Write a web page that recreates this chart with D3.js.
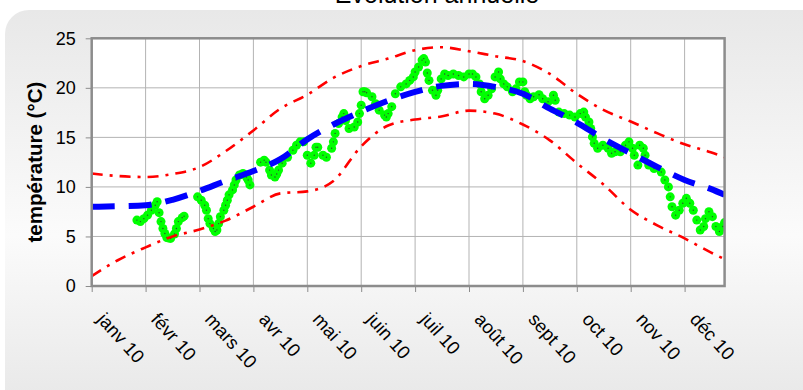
<!DOCTYPE html>
<html>
<head>
<meta charset="utf-8">
<script src="https://cdnjs.cloudflare.com/ajax/libs/d3/7.8.5/d3.min.js"></script>
<style>
  body { margin: 0; background: #fff; }
  svg { display: block; font-family: "Liberation Sans", Arial, sans-serif; }
</style>
</head>
<body>
<svg id="chart" width="803" height="390"></svg>
<script>
// month ticks (day of year at each month start)
const monthLabels = ['janv 10', 'févr 10', 'mars 10', 'avr 10', 'mai 10', 'juin 10',
  'juil 10', 'août 10', 'sept 10', 'oct 10', 'nov 10', 'déc 10'];
const monthStarts = [0, 31, 59, 90, 120, 151, 181, 212, 243, 273, 304, 334, 365];
const lastDay = 357;
const yTicks = [0, 5, 10, 15, 20, 25];

// normals and envelope, sampled twice a month
const curveDays = [0, 15, 31, 45, 59, 74, 90, 105, 120, 135, 151, 166, 181, 196, 212, 227, 243, 258, 273, 288, 304, 319, 334, 349, 357];
const normalTemp = [8.0, 8.05, 8.15, 8.7, 9.6, 10.6, 11.6, 12.8, 14.8, 16.3, 17.6, 18.7, 19.6, 20.2, 20.4, 20.1, 19.4, 17.9, 16.5, 14.9, 13.4, 12.0, 10.7, 9.8, 9.2];
const upperTemp = [11.35, 11.1, 11.0, 11.3, 12.0, 13.6, 15.7, 17.9, 19.3, 21.0, 22.2, 22.95, 23.8, 24.1, 23.7, 23.2, 22.7, 21.4, 19.4, 17.8, 16.6, 15.4, 14.3, 13.5, 13.0];
const lowerTemp = [1.0, 2.6, 3.9, 5.0, 5.7, 6.6, 8.0, 9.35, 9.55, 10.6, 14.1, 16.2, 16.8, 17.1, 17.7, 17.4, 16.3, 14.7, 12.4, 10.3, 7.7, 6.1, 4.8, 3.4, 2.7];

// observed daily temperatures
const obsDays = [26, 28, 30, 32, 34, 36, 37, 38, 39, 40, 41, 42, 43, 44, 46, 47, 48, 50, 51,
  58, 60, 62, 63, 64, 65, 67, 68, 69, 70, 71, 73, 74, 75, 76, 78, 79, 80, 82, 84, 86, 87, 88,
  94, 96, 97, 99, 100, 102, 103, 104, 106, 109, 112, 114, 116, 118,
  120, 122, 124, 125, 126, 129, 131, 134, 135, 136, 138, 140, 141, 142, 144, 147, 149, 150,
  151, 152, 153, 154, 157, 159, 161, 164, 165, 166, 168, 170, 173, 176, 178, 180, 181, 183,
  185, 186, 187, 188, 189, 191, 193, 194, 196, 198, 200, 203, 206, 209, 212, 214, 216, 218,
  219, 221, 223, 225, 227, 229, 230, 232, 234, 237, 239, 241, 243, 244, 245, 247, 249, 252,
  254, 257, 260, 261, 263, 266, 269, 272, 275, 277, 278, 280, 281, 282, 283, 285, 288, 291,
  293, 295, 298, 301, 303, 305, 306, 308, 309, 311, 312, 314, 317, 321, 323, 325, 326, 327,
  329, 331, 333, 335, 337, 339, 341, 343, 345, 346, 348, 350, 352, 354, 356, 357];
const obsTemp = [6.65, 6.5, 6.8, 7.15, 7.65, 8.15, 8.5, 7.4, 6.5, 5.8, 5.3, 4.9, 4.85, 4.8, 5.25, 5.8, 6.5, 6.9, 7.05,
  9.0, 8.65, 8.15, 7.65, 6.8, 6.3, 5.8, 5.5, 5.65, 6.3, 7.0, 7.65, 8.15, 8.65, 9.2, 9.7, 10.2, 10.7, 11.2, 11.35, 11.0, 10.7, 10.2,
  12.5, 12.7, 12.5, 11.7, 11.2, 11.0, 11.3, 11.7, 12.4, 13.0, 13.7, 14.2, 14.55, 14.55,
  13.2, 12.4, 13.2, 14.0, 14.0, 13.2, 13.0, 13.9, 14.55, 15.4, 16.4, 17.05, 17.4, 16.7, 15.9, 16.05, 16.55, 17.4,
  18.25, 19.6, 19.6, 19.5, 19.1, 18.4, 17.75, 17.25, 17.05, 17.4, 18.1, 19.4, 20.1, 20.4, 20.75, 21.1, 21.6, 22.1,
  22.8, 22.95, 22.6, 21.5, 20.75, 19.75, 19.25, 19.75, 20.9, 21.4, 21.25, 21.4, 21.25, 21.1, 21.4, 21.4, 21.1, 20.4,
  19.6, 18.9, 19.25, 19.9, 21.1, 21.6, 20.9, 20.4, 20.1, 19.6, 19.9, 20.6, 20.6, 19.6, 19.25, 18.9, 19.1, 19.3,
  18.9, 18.6, 19.25, 18.75, 17.55, 17.4, 17.25, 17.05, 17.4, 17.55, 17.05, 16.55, 15.9, 15.05, 14.4, 13.9, 14.2, 13.9,
  13.4, 13.55, 13.55, 14.2, 14.55, 13.9, 13.2, 12.2, 14.2, 13.9, 13.2, 12.2, 11.85, 11.5, 10.7, 10.0, 9.0, 8.0,
  7.15, 7.65, 8.35, 8.85, 8.35, 7.65, 6.65, 5.65, 6.0, 6.8, 7.5, 7.0, 6.0, 5.5, 6.0, 6.4];

const svg = d3.select('#chart');
const plotLeft = 91.7, plotTop = 38.3, plotBottom = 286, monthW = 53.9;

const x = d3.scaleLinear()
  .domain(monthStarts)
  .range(monthStarts.map((d, i) => plotLeft + i * monthW));
const plotRight = x(lastDay);

const y = d3.scaleLinear()
  .domain([0, 25])
  .range([plotBottom, plotTop]);

// background panel
const defs = svg.append('defs');
const grad = defs.append('linearGradient')
  .attr('id', 'bg')
  .attr('x1', 0).attr('y1', 0).attr('x2', 0).attr('y2', 1);
grad.append('stop').attr('offset', '0%').attr('stop-color', '#e8e8e8');
grad.append('stop').attr('offset', '55%').attr('stop-color', '#fbfbfb');
grad.append('stop').attr('offset', '100%').attr('stop-color', '#e6e6e6');

defs.append('clipPath').attr('id', 'plot')
  .append('rect')
  .attr('x', plotLeft).attr('y', plotTop)
  .attr('width', plotRight - plotLeft).attr('height', plotBottom - plotTop);

svg.append('rect')
  .attr('x', 5).attr('y', 10)
  .attr('width', 830).attr('height', 410)
  .attr('rx', 24)
  .attr('fill', 'url(#bg)');

svg.append('text')
  .attr('x', 437).attr('y', 3)
  .attr('text-anchor', 'middle')
  .attr('font-size', '25px')
  .text('Evolution annuelle');

// plot area
svg.append('rect')
  .attr('x', plotLeft).attr('y', plotTop)
  .attr('width', plotRight - plotLeft).attr('height', plotBottom - plotTop)
  .attr('fill', '#fff');

svg.append('g')
  .selectAll('line')
  .data(yTicks)
  .join('line')
  .attr('x1', plotLeft).attr('x2', plotRight)
  .attr('y1', d => y(d)).attr('y2', d => y(d))
  .attr('stroke', '#b3b3b3');

svg.append('g')
  .selectAll('line')
  .data(monthStarts.slice(1, 12))
  .join('line')
  .attr('x1', d => x(d)).attr('x2', d => x(d))
  .attr('y1', plotTop).attr('y2', plotBottom)
  .attr('stroke', '#b3b3b3');

// axes
const yAxis = svg.append('g')
  .attr('transform', `translate(${plotLeft},0)`)
  .call(d3.axisLeft(y).tickValues(yTicks).tickSize(6).tickPadding(10));
yAxis.select('.domain').remove();
yAxis.selectAll('line').attr('stroke', '#8c8c8c');
yAxis.selectAll('text')
  .attr('font-size', '18px')
  .attr('font-family', '"Liberation Sans", Arial, sans-serif')
  .attr('fill', '#000');

const xAxis = svg.append('g')
  .attr('transform', `translate(0,${plotBottom})`)
  .call(d3.axisBottom(x)
    .tickValues(monthStarts.slice(0, 12))
    .tickFormat((d, i) => monthLabels[i])
    .tickSize(6));
xAxis.select('.domain').remove();
xAxis.selectAll('line').attr('stroke', '#8c8c8c');
xAxis.selectAll('text')
  .attr('font-size', '18.5px')
  .attr('font-family', '"Liberation Sans", Arial, sans-serif')
  .attr('fill', '#000')
  .attr('text-anchor', 'start')
  .attr('y', 0).attr('dy', 0)
  .attr('transform', 'translate(4,34) rotate(48)');

svg.append('text')
  .attr('transform', `translate(42,${(plotTop + plotBottom) / 2}) rotate(-90)`)
  .attr('text-anchor', 'middle')
  .attr('font-size', '20.5px')
  .attr('font-weight', 'bold')
  .text('température (°C)');

// series
const plot = svg.append('g').attr('clip-path', 'url(#plot)');

const obs = d3.zip(obsDays, obsTemp);
plot.append('g')
  .selectAll('circle')
  .data(obs)
  .join('circle')
  .attr('cx', d => x(d[0]))
  .attr('cy', d => y(d[1]))
  .attr('r', 4.5)
  .attr('fill', '#00ff00');
plot.append('g')
  .selectAll('circle')
  .data(obs)
  .join('circle')
  .attr('cx', d => x(d[0]))
  .attr('cy', d => y(d[1]))
  .attr('r', 0.7)
  .attr('fill', '#2b4d2b');

const line = d3.line()
  .x(d => x(d[0]))
  .y(d => y(d[1]))
  .curve(d3.curveMonotoneX);

[upperTemp, lowerTemp].forEach(vals => {
  plot.append('path')
    .datum(d3.zip(curveDays, vals))
    .attr('d', line)
    .attr('fill', 'none')
    .attr('stroke', '#ff0000')
    .attr('stroke-width', 2.6)
    .attr('stroke-dasharray', '11,7,3,7');
});

plot.append('path')
  .datum(d3.zip(curveDays, normalTemp))
  .attr('d', line)
  .attr('fill', 'none')
  .attr('stroke', '#0000ff')
  .attr('stroke-width', 6)
  .attr('stroke-dasharray', '23,14');

// plot border
svg.append('rect')
  .attr('x', plotLeft).attr('y', plotTop)
  .attr('width', plotRight - plotLeft).attr('height', plotBottom - plotTop)
  .attr('fill', 'none')
  .attr('stroke', '#8c8c8c')
  .attr('stroke-width', 2.5);
</script>
</body>
</html>
